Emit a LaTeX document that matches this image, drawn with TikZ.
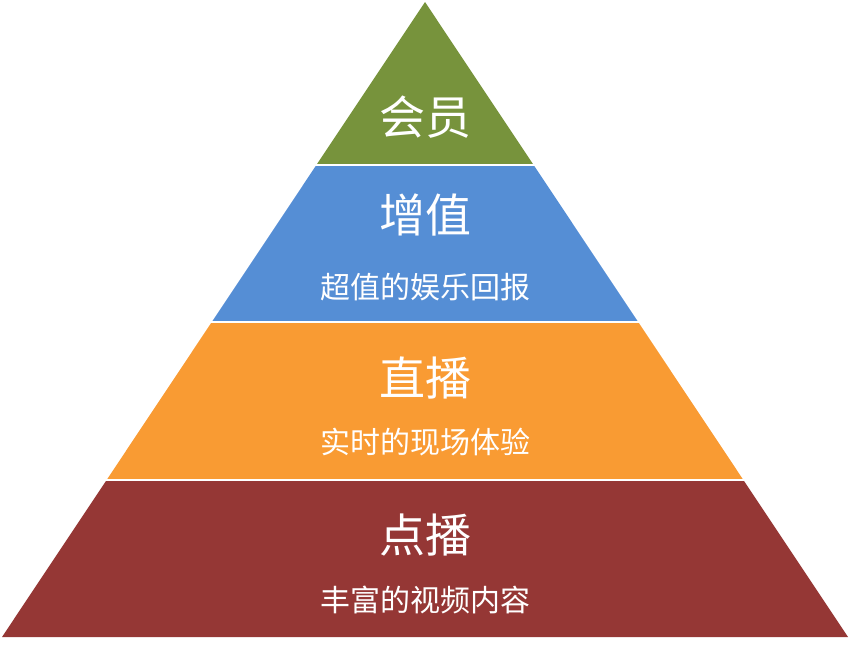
\documentclass[tikz,border=0pt]{standalone}
\usepackage{fontspec}
\newfontfamily\cjk{Noto Sans CJK SC}
\definecolor{cg}{HTML}{77933C}
\definecolor{cb}{HTML}{558ED5}
\definecolor{co}{HTML}{F99B33}
\definecolor{cr}{HTML}{953735}
\begin{document}
\begin{tikzpicture}[x=1pt,y=-1pt,
  band/.style={draw=white,line width=2pt},
  big/.style={text=white,font=\cjk\fontsize{46}{46}\selectfont,inner sep=0pt},
  small/.style={text=white,font=\cjk\fontsize{30}{30}\selectfont,inner sep=0pt}]
\useasboundingbox (0,0) rectangle (850,645);
\fill[cg] (425,2) -- (533.6,165) -- (316.4,165) -- cycle;
\fill[cb] (316.4,165) -- (533.6,165) -- (638.2,322) -- (211.8,322) -- cycle;
\fill[co] (211.8,322) -- (638.2,322) -- (743.4,480) -- (106.6,480) -- cycle;
\fill[cr] (106.6,480) -- (743.4,480) -- (848,637) -- (2,637) -- cycle;
\draw[band] (300,165) -- (550,165);
\draw[band] (200,322) -- (650,322);
\draw[band] (95,480) -- (755,480);
\node[big] (t1) at (425,117) {会员};
\node[big] (t2) at (425,215) {增值};
\node[small] (s2) at (425,287) {超值的娱乐回报};
\node[big] (t3) at (425,378) {直播};
\node[small] (s3) at (425,442) {实时的现场体验};
\node[big] (t4) at (425,535) {点播};
\node[small] (s4) at (425,600) {丰富的视频内容};
\end{tikzpicture}
\end{document}
